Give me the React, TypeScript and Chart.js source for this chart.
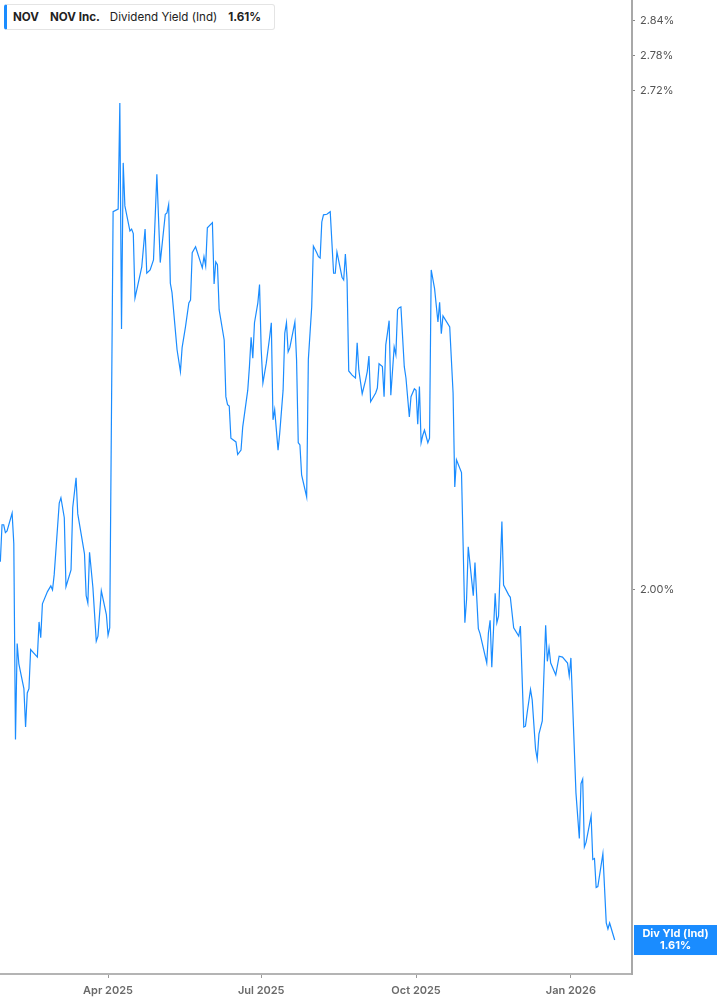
import React, { useEffect, useRef } from "react";
import { Chart, registerables } from "chart.js";

Chart.register(...registerables);

// days since 1 Jan 2025 (one point per trading session drawn)
const dayOffsets = [
  26, 27, 28, 29, 30, 33, 34, 35, 36, 37, 40, 41, 42, 43, 44, 48, 49, 50, 51, 54, 56, 57, 58, 61, 62,
  64, 65, 68, 69, 71, 72, 76, 77, 78, 79, 81, 83, 84, 86, 89, 90, 91, 93, 96, 97, 98, 99, 100,
  103, 104, 105, 106, 110, 112, 113, 115, 117, 119, 121, 124, 125, 126, 127, 128, 131, 133, 134, 136,
  138, 139, 140, 142, 146, 147, 148, 149, 152, 153, 154, 155, 156, 159, 160, 161, 162, 163, 166, 167,
  169, 170, 173, 174, 175, 176, 177, 179, 180, 181, 182, 184, 186, 187, 188, 189, 191, 192, 194, 195,
  196, 197, 198, 201, 202, 203,
  204, 205, 208, 209, 211, 212, 214, 215, 216, 217, 218, 220, 222, 224, 225, 226, 229, 230, 231, 232,
  233, 235, 237, 238, 239, 241, 243, 244, 245, 246, 249, 250, 251, 253, 254, 255, 256, 257, 258, 260,
  261, 262, 263, 264, 266, 267, 269, 270, 272, 273, 274, 275, 276, 277, 278, 280, 281, 282, 284, 286,
  287, 288, 289, 293, 295, 296, 297, 300,
  302, 303, 304, 307, 308, 310, 311, 315, 316, 317, 318, 320, 321, 322, 324, 325, 328, 329, 331, 334,
  335, 337, 338, 339, 341, 342, 344, 345, 346, 348, 350, 351, 352, 353, 356, 358, 360, 363, 364, 365,
  368, 370, 371, 372, 373, 374, 377, 378, 379, 380, 381, 384, 386, 387, 388, 391,
];

// dividend yield (Ind), %
const yieldValues = [
  2.035, 2.082, 2.082, 2.072, 2.074, 2.097, 2.058, 1.824, 1.935, 1.911, 1.882, 1.838, 1.877, 1.882,
  1.928, 1.919, 1.961, 1.942, 1.983, 1.998, 2.005, 2.0, 2.019, 2.11, 2.117, 2.091, 2.004, 2.025, 2.104,
  2.143, 2.096, 2.045, 1.993, 1.984, 2.047, 2.003, 1.938, 1.944, 1.999, 1.97, 1.945, 1.954, 2.525,
  2.529, 2.7, 2.349, 2.602, 2.534,
  2.495, 2.498, 2.491, 2.394, 2.44, 2.498, 2.431, 2.436, 2.451, 2.584, 2.447, 2.521, 2.523, 2.536,
  2.416, 2.402, 2.319, 2.288, 2.322, 2.352, 2.387, 2.391, 2.462, 2.471, 2.439, 2.456, 2.442, 2.5,
  2.508, 2.415, 2.448, 2.444, 2.377, 2.333, 2.253, 2.242, 2.24, 2.196, 2.191, 2.174, 2.18, 2.211,
  2.262, 2.295, 2.337, 2.307, 2.358, 2.387, 2.414, 2.319, 2.272, 2.3, 2.337, 2.358, 2.221, 2.235,
  2.18, 2.203, 2.262, 2.343, 2.358, 2.316, 2.322, 2.359, 2.305, 2.19,
  2.187, 2.147, 2.118, 2.305, 2.381, 2.472, 2.462, 2.456, 2.454, 2.509, 2.52, 2.521, 2.525, 2.431,
  2.431, 2.463, 2.425, 2.421, 2.46, 2.421, 2.289, 2.283, 2.279, 2.329, 2.29, 2.257, 2.276, 2.288,
  2.31, 2.246, 2.258, 2.265, 2.299, 2.295, 2.253, 2.326, 2.343, 2.361, 2.255, 2.323, 2.312, 2.377,
  2.38, 2.381, 2.295, 2.279, 2.225, 2.253, 2.264, 2.262, 2.215, 2.267, 2.19, 2.2, 2.207, 2.19, 2.196,
  2.436, 2.408, 2.359, 2.388, 2.342, 2.368, 2.352, 2.258, 2.131, 2.167, 2.15,
  1.96, 1.988, 2.054, 1.993, 2.034, 1.953, 1.947, 1.912, 1.948, 1.963, 1.907, 1.996, 1.96, 1.968,
  2.086, 2.006, 1.994, 1.991, 1.954, 1.944, 1.956, 1.838, 1.839, 1.854, 1.881, 1.869, 1.813, 1.802,
  1.83, 1.845, 1.957, 1.914, 1.93, 1.912, 1.898, 1.92, 1.919, 1.912, 1.897, 1.918, 1.765, 1.716,
  1.775, 1.78, 1.707, 1.712, 1.74, 1.694, 1.695, 1.665, 1.666, 1.7, 1.629, 1.623, 1.629, 1.612,
];

const xTickDays = [90, 181, 273, 365];
const xTickLabels = ["Apr 2025", "Jul 2025", "Oct 2025", "Jan 2026"];
const yTickValues = [2.0, 2.72, 2.78, 2.84];

const FONT = "Inter, 'Noto Sans', sans-serif";
const BLUE = "#1a8cff";

const endLabelPlugin = {
  id: "endLabel",
  afterDraw(chart: any) {
    const { ctx, chartArea, scales } = chart;
    const last = yieldValues[yieldValues.length - 1];
    const y = scales.y.getPixelForValue(last);
    const left = chartArea.right + 2;
    const w = chart.width - left;
    ctx.save();
    ctx.fillStyle = BLUE;
    ctx.fillRect(left, y - 15, w, 30);
    ctx.fillStyle = "#fff";
    ctx.font = `bold 11px ${FONT}`;
    ctx.textAlign = "center";
    ctx.textBaseline = "middle";
    ctx.fillText("Div Yld (Ind)", left + w / 2, y - 6);
    ctx.fillText(last.toFixed(2) + "%", left + w / 2, y + 6);
    ctx.restore();
  },
};

const App: React.FC = () => {
  const canvasRef = useRef<HTMLCanvasElement | null>(null);
  const chartRef = useRef<Chart | null>(null);

  useEffect(() => {
    const ctx = canvasRef.current?.getContext("2d");
    if (!ctx) return;
    chartRef.current?.destroy();

    chartRef.current = new Chart(ctx, {
      type: "line",
      data: {
        datasets: [
          {
            data: dayOffsets.map((d, i) => ({ x: d, y: yieldValues[i] })),
            borderColor: BLUE,
            borderWidth: 1.2,
            pointRadius: 0,
            tension: 0,
            fill: false,
          },
        ],
      },
      options: {
        animation: false,
        responsive: true,
        maintainAspectRatio: false,
        layout: { padding: 0 },
        plugins: { legend: { display: false }, tooltip: { enabled: false } },
        scales: {
          x: {
            type: "linear",
            min: 25.8,
            max: 401.3,
            afterBuildTicks: (s: any) => {
              s.ticks = xTickDays.map((v) => ({ value: v }));
            },
            afterFit: (s: any) => {
              s.height = 31;
              s.paddingLeft = 0;
              s.paddingRight = 0;
            },
            grid: { drawOnChartArea: false, drawTicks: true, tickLength: 4, color: "#9a9a9a" },
            border: { display: true, color: "#b4b4b4", width: 2 },
            ticks: {
              autoSkip: false,
              maxRotation: 0,
              padding: 6,
              color: "#6a6a6a",
              font: { family: FONT, size: 11, weight: "600" },
              callback: (v: any) => xTickLabels[xTickDays.indexOf(Number(v))] ?? "",
            },
          },
          y: {
            type: "logarithmic",
            position: "right",
            min: 1.5786,
            max: 2.8767,
            afterBuildTicks: (s: any) => {
              s.ticks = yTickValues.map((v) => ({ value: v }));
            },
            afterFit: (s: any) => {
              s.width = 85;
              s.paddingTop = 0;
              s.paddingBottom = 0;
            },
            grid: { drawOnChartArea: false, drawTicks: true, tickLength: 3, color: "#888" },
            border: { display: true, color: "#a8a8a8", width: 2 },
            ticks: {
              padding: 5,
              color: "#555",
              font: { family: FONT, size: 11 },
              callback: (v: any) => Number(v).toFixed(2) + "%",
            },
          },
        },
      },
      plugins: [endLabelPlugin],
    });

    return () => {
      chartRef.current?.destroy();
      chartRef.current = null;
    };
  }, []);

  return (
    <div style={{ position: "absolute", left: 0, top: 0, width: 717, height: 1005, background: "#fff" }}>
      <canvas ref={canvasRef}></canvas>
      <div
        style={{
          position: "absolute",
          left: 4,
          top: 4,
          width: 267,
          height: 24,
          border: "1px solid #e4e4e4",
          borderLeft: `3px solid ${BLUE}`,
          borderRadius: 3,
          background: "#fff",
          display: "flex",
          alignItems: "center",
          fontFamily: FONT,
          fontSize: 11.6,
          color: "#222",
          whiteSpace: "nowrap",
        }}
      >
        <span style={{ fontWeight: 700, marginLeft: 6 }}>NOV</span>
        <span style={{ fontWeight: 700, marginLeft: 11 }}>NOV Inc.</span>
        <span style={{ marginLeft: 10 }}>Dividend Yield (Ind)</span>
        <span style={{ fontWeight: 700, marginLeft: 11 }}>1.61%</span>
      </div>
    </div>
  );
};

export default App;
